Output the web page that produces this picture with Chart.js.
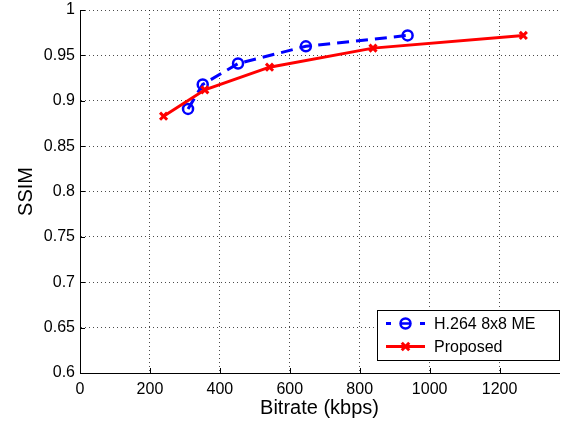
<!DOCTYPE html>
<html>
<head>
<meta charset="utf-8">
<script src="https://cdn.jsdelivr.net/npm/chart.js@4/dist/chart.umd.min.js"></script>
<style>
  html, body { margin: 0; padding: 0; background: #fff; }
  canvas { display: block; }
</style>
</head>
<body>
<canvas id="rdChart" width="567" height="426"></canvas>
<script>
// data
const h264Bitrate = [309, 351, 452, 646, 937];
const h264Ssim = [0.891, 0.918, 0.941, 0.960, 0.972];
const proposedBitrate = [239, 357, 542, 838, 1268];
const proposedSsim = [0.883, 0.912, 0.937, 0.958, 0.972];
const seriesLabels = ["H.264 8x8 ME", "Proposed"];
const xTicks = [0, 200, 400, 600, 800, 1000, 1200];
const yTicks = [0.6, 0.65, 0.7, 0.75, 0.8, 0.85, 0.9, 0.95, 1];

const FONT = "'Liberation Sans', Arial, Helvetica, sans-serif";

const toPoints = (xs, ys) => xs.map((x, i) => ({ x: x, y: ys[i] }));

// small inward tick marks, matlab style
const innerTicks = {
  id: "innerTicks",
  afterDatasetsDraw(chart) {
    const { ctx, chartArea, scales } = chart;
    ctx.save();
    ctx.strokeStyle = "#000";
    ctx.lineWidth = 1;
    ctx.beginPath();
    for (const v of xTicks) {
      const px = Math.round(scales.x.getPixelForValue(v)) + 0.5;
      ctx.moveTo(px, chartArea.bottom);
      ctx.lineTo(px, chartArea.bottom - 5);
    }
    for (const v of yTicks) {
      const py = Math.round(scales.y.getPixelForValue(v)) + 0.5;
      ctx.moveTo(chartArea.left, py);
      ctx.lineTo(chartArea.left + 5, py);
    }
    ctx.stroke();
    ctx.restore();
  },
};

// legend box inside the plot, bottom right
const boxLegend = {
  id: "boxLegend",
  afterDraw(chart) {
    const { ctx } = chart;
    const x0 = 377, y0 = 310, w = 183, h = 51;
    ctx.save();
    ctx.fillStyle = "#fff";
    ctx.fillRect(x0, y0, w, h);
    ctx.strokeStyle = "#000";
    ctx.lineWidth = 1;
    ctx.strokeRect(x0 + 0.5, y0 + 0.5, w - 1, h - 1);

    const rows = [y0 + 13.5, y0 + 36.5];
    chart.data.datasets.forEach((ds, i) => {
      const y = rows[i];
      ctx.strokeStyle = ds.borderColor;
      ctx.lineWidth = ds.borderWidth;
      ctx.beginPath();
      if (ds.borderDash) {
        ctx.moveTo(386, y); ctx.lineTo(391, y);
        ctx.moveTo(420, y); ctx.lineTo(425, y);
      } else {
        ctx.moveTo(386, y); ctx.lineTo(425, y);
      }
      ctx.stroke();
      ctx.lineWidth = ds.pointBorderWidth;
      ctx.beginPath();
      const cx = 405.5, r = ds.pointRadius;
      if (ds.pointStyle === "circle") {
        ctx.arc(cx, y, r, 0, Math.PI * 2);
        ctx.moveTo(cx - r, y); ctx.lineTo(cx + r, y);
      } else {
        const d = r * 0.75;
        ctx.moveTo(cx - d, y - d); ctx.lineTo(cx + d, y + d);
        ctx.moveTo(cx - d, y + d); ctx.lineTo(cx + d, y - d);
      }
      ctx.stroke();

      ctx.fillStyle = "#000";
      ctx.font = "16px " + FONT;
      ctx.textBaseline = "middle";
      ctx.fillText(ds.label, 434, y + 1);
    });
    ctx.restore();
  },
};

const ctx = document.getElementById("rdChart").getContext("2d");
new Chart(ctx, {
  type: "line",
  data: {
    datasets: [
      {
        label: seriesLabels[0],
        data: toPoints(h264Bitrate, h264Ssim),
        borderColor: "#0000ff",
        backgroundColor: "#0000ff",
        borderWidth: 3,
        borderDash: [12, 7],
        pointStyle: "circle",
        pointRadius: 5,
        pointBorderWidth: 2.5,
        pointBackgroundColor: "rgba(0,0,0,0)",
        pointBorderColor: "#0000ff",
        fill: false,
        order: 2,
      },
      {
        label: seriesLabels[1],
        data: toPoints(proposedBitrate, proposedSsim),
        borderColor: "#ff0000",
        backgroundColor: "#ff0000",
        borderWidth: 3,
        pointStyle: "crossRot",
        pointRadius: 5,
        pointBorderWidth: 3,
        pointBorderColor: "#ff0000",
        fill: false,
        order: 1,
      },
    ],
  },
  options: {
    responsive: false,
    animation: false,
    devicePixelRatio: 1,
    layout: { padding: { left: 0, right: 8, top: 10, bottom: 0 } },
    plugins: {
      legend: { display: false },
      tooltip: { enabled: false },
    },
    scales: {
      x: {
        type: "linear",
        min: 0,
        max: 1370,
        afterBuildTicks: (scale) => { scale.ticks = xTicks.map((v) => ({ value: v })); },
        afterFit: (scale) => {
          scale.height = 53;
          scale.paddingLeft = 0;
          scale.paddingRight = 0;
        },
        ticks: {
          color: "#000",
          padding: 7,
          maxRotation: 0,
          font: { family: FONT, size: 16 },
          callback: (v) => String(v),
        },
        grid: { color: "rgba(0,0,0,0.7)", lineWidth: 1, drawTicks: false },
        border: { display: true, color: "#000", width: 1, dash: [1, 3] },
        title: {
          display: true,
          text: "Bitrate (kbps)",
          color: "#000",
          font: { family: FONT, size: 20 },
          padding: { top: 0, bottom: 6 },
        },
      },
      y: {
        type: "linear",
        min: 0.6,
        max: 1,
        afterBuildTicks: (scale) => { scale.ticks = yTicks.map((v) => ({ value: v })); },
        afterFit: (scale) => {
          scale.width = 80;
          scale.paddingTop = 0;
          scale.paddingBottom = 0;
        },
        ticks: {
          color: "#000",
          padding: 5,
          font: { family: FONT, size: 16 },
          callback: (v) => String(Number(v.toFixed(2))),
        },
        grid: { color: "rgba(0,0,0,0.7)", lineWidth: 1, drawTicks: false },
        border: { display: true, color: "#000", width: 1, dash: [1, 3] },
        title: {
          display: true,
          text: "SSIM",
          color: "#000",
          font: { family: FONT, size: 20 },
          padding: { top: 14, bottom: 0 },
        },
      },
    },
  },
  plugins: [innerTicks, boxLegend],
});
</script>
</body>
</html>
